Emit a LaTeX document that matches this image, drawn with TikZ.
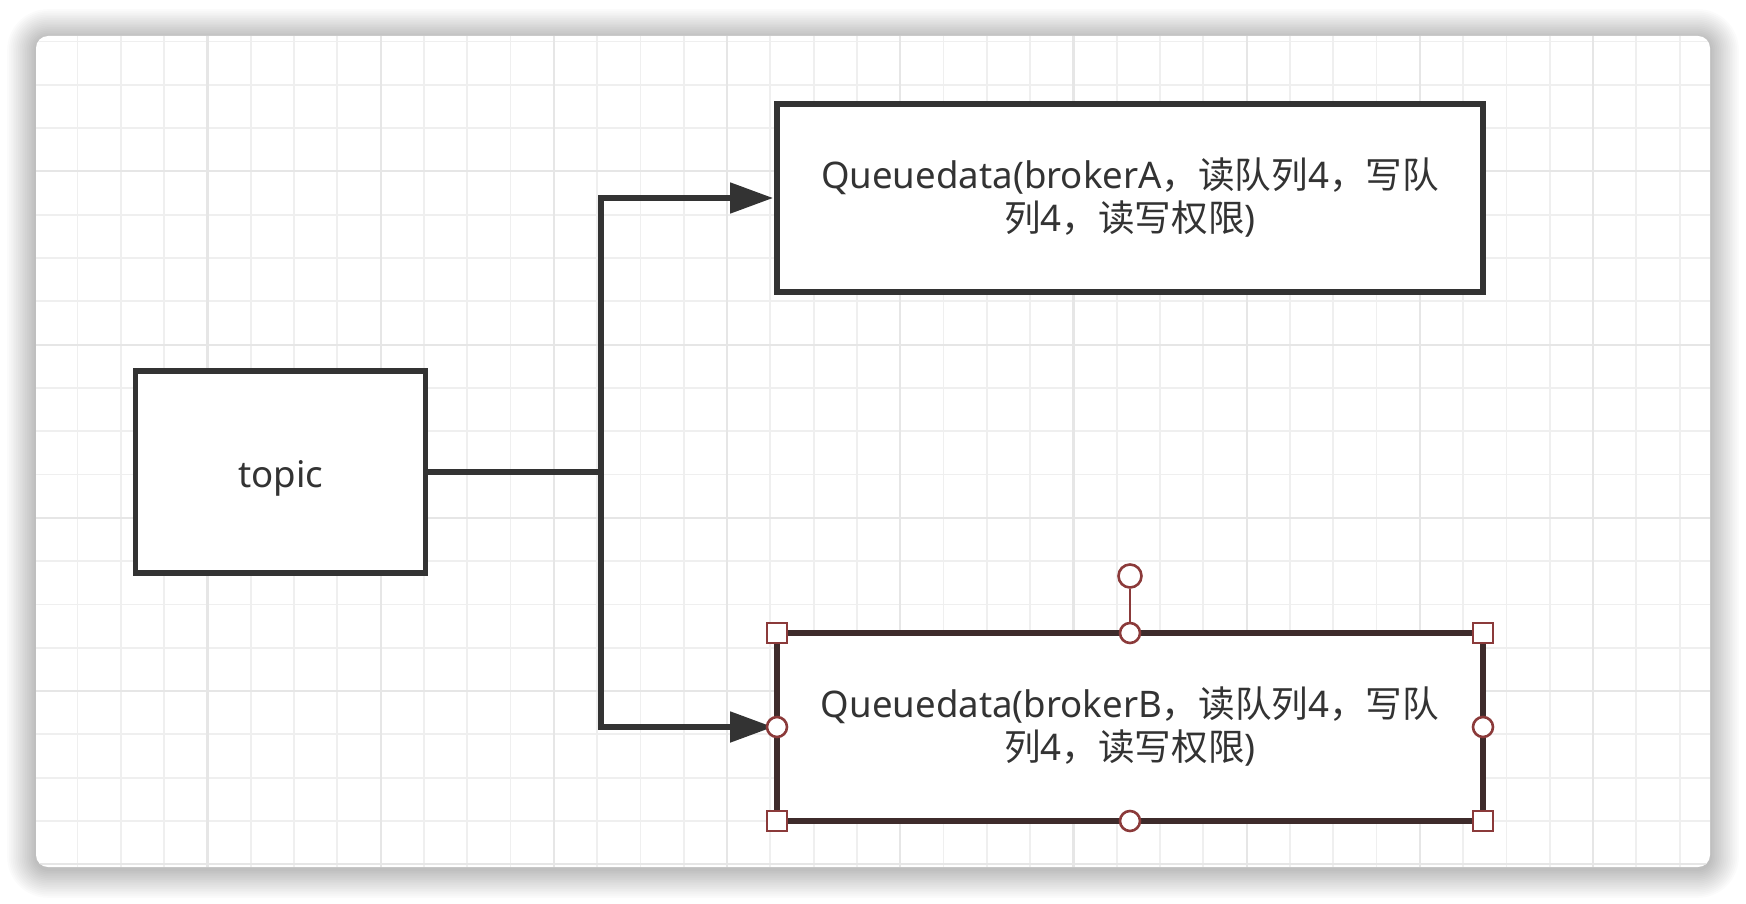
\documentclass[tikz,border=0pt]{standalone}
\usepackage{fontspec}
\setmainfont{Noto Sans}
\newfontfamily\cjk{Noto Sans CJK SC}
\usetikzlibrary{arrows.meta}
\definecolor{ink}{HTML}{333333}
\definecolor{gridminor}{HTML}{EFEFEF}
\definecolor{gridmajor}{HTML}{E6E6E6}
\definecolor{sel}{HTML}{8B3A3A}
\definecolor{selbox}{HTML}{3E2B2B}
\begin{document}
\begin{tikzpicture}[x=0.5pt,y=-0.5pt,
  box/.style={draw=ink, line width=2.6pt, fill=white, inner sep=0pt, outer sep=0pt,
    text=ink, font=\fontsize{18.3pt}{21.5pt}\selectfont, align=center},
  conn/.style={draw=ink, line width=2.6pt},
  arr/.style={conn, -{Triangle[length=21.5pt,width=15pt]}, shorten >=2pt},
  hsq/.style={draw=sel, line width=1.3pt, fill=white, rectangle, minimum size=10pt, inner sep=0pt},
  hcirc/.style={draw=sel, line width=1.3pt, fill=white, circle, minimum size=10pt, inner sep=0pt}
]
\useasboundingbox (0,0) rectangle (1746,904);
\fill[white] (0,0) rectangle (1746,904);
% shadow
\foreach \i in {1,...,16}{
  \pgfmathsetmacro\dd{1.8*\i}
  \pgfmathsetmacro\rr{6+\dd/2}
  \fill[black, opacity=0.015, rounded corners=\rr pt] (36-\dd,36-\dd+2) rectangle (1710+\dd,867+\dd+2);
}
% card
\fill[white, rounded corners=6pt] (36,36) rectangle (1710,867);
\begin{scope}
  \clip[rounded corners=6pt] (36,36) rectangle (1710,867);
  \foreach \k in {0,...,39}{
    \pgfmathsetmacro\xx{34.2+43.3*\k}
    \draw[gridminor, line width=0.9pt] (\xx,36) -- (\xx,867);
  }
  \foreach \k in {0,...,19}{
    \pgfmathsetmacro\yy{41.5+43.3*\k}
    \draw[gridminor, line width=0.9pt] (36,\yy) -- (1710,\yy);
  }
  \foreach \k in {0,...,9}{
    \pgfmathsetmacro\xx{34.2+173.2*\k}
    \draw[gridmajor, line width=1.1pt] (\xx,36) -- (\xx,867);
  }
  \foreach \k in {0,...,4}{
    \pgfmathsetmacro\yy{171.4+173.2*\k}
    \draw[gridmajor, line width=1.1pt] (36,\yy) -- (1710,\yy);
  }
\end{scope}
% boxes
\node[box, minimum width=145pt, minimum height=101pt, text height=18pt, text depth=3pt] (topic) at (280.6,472) {topic};
\node[box, minimum width=353pt, minimum height=94pt] (qa) at (1130,198)
  {Queuedata(brokerA{\cjk ，读队列}4{\cjk ，写队}\\{\cjk 列}4{\cjk ，读写权限})};
\node[box, draw=selbox, minimum width=353pt, minimum height=94pt] (qb) at (1130,727)
  {Queuedata(brokerB{\cjk ，读队列}4{\cjk ，写队}\\{\cjk 列}4{\cjk ，读写权限})};
% connectors
\coordinate (j) at (601,472);
\draw[conn] (topic.east) -- (j);
\draw[arr] (j) |- (qa.west);
\draw[arr] (j) |- (qb.west);
% selection handles
\node[hcirc, minimum size=11.5pt] (rot) at (1130,576) {};
\node[hcirc] (hn) at (qb.north) {};
\draw[sel, line width=0.9pt] (rot.south) -- (hn.north);
\node[hcirc] (hs) at (qb.south) {};
\node[hcirc] (hw) at (qb.west) {};
\node[hcirc] (he) at (qb.east) {};
\node[hsq] (hnw) at (qb.north west) {};
\node[hsq] (hne) at (qb.north east) {};
\node[hsq] (hsw) at (qb.south west) {};
\node[hsq] (hse) at (qb.south east) {};
\end{tikzpicture}
\end{document}
